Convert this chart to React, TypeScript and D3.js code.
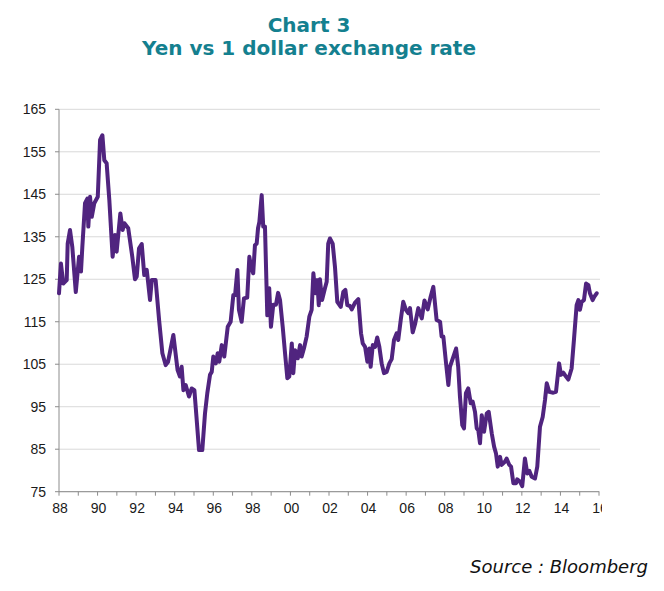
import React from "react";
import * as d3 from "d3";

const years: number[] = [
  1988.00, 1988.10, 1988.22, 1988.40, 1988.45, 1988.57, 1988.69, 1988.87, 1989.04, 1989.14,
  1989.21, 1989.35, 1989.47, 1989.52, 1989.61, 1989.70, 1989.83, 1990.01, 1990.13, 1990.25,
  1990.35, 1990.47, 1990.61, 1990.78, 1990.90, 1990.99, 1991.18, 1991.30, 1991.39, 1991.59,
  1991.80, 1991.94, 1992.03, 1992.15, 1992.29, 1992.42, 1992.55, 1992.72, 1992.81, 1993.01,
  1993.19, 1993.36, 1993.53, 1993.65, 1993.76, 1993.93, 1994.15, 1994.27, 1994.36, 1994.45,
  1994.57, 1994.74, 1994.88, 1995.02, 1995.14, 1995.26, 1995.43, 1995.57, 1995.69, 1995.83,
  1995.92, 1996.00, 1996.13, 1996.23, 1996.31, 1996.44, 1996.57, 1996.75, 1996.90, 1997.04,
  1997.13, 1997.25, 1997.33, 1997.47, 1997.59, 1997.76, 1997.87, 1997.96, 1998.07, 1998.16,
  1998.25, 1998.32, 1998.39, 1998.51, 1998.59, 1998.68, 1998.80, 1998.90, 1998.99, 1999.11,
  1999.25, 1999.36, 1999.46, 1999.60, 1999.72, 1999.84, 1999.94, 2000.07, 2000.15, 2000.24,
  2000.38, 2000.50, 2000.58, 2000.70, 2000.84, 2000.98, 2001.10, 2001.19, 2001.29, 2001.39,
  2001.47, 2001.53, 2001.64, 2001.79, 2001.88, 2001.96, 2002.05, 2002.19, 2002.31, 2002.43,
  2002.61, 2002.74, 2002.85, 2002.95, 2003.09, 2003.18, 2003.35, 2003.52, 2003.66, 2003.75,
  2003.87, 2003.99, 2004.09, 2004.16, 2004.27, 2004.39, 2004.50, 2004.61, 2004.73, 2004.85,
  2004.99, 2005.13, 2005.25, 2005.37, 2005.51, 2005.59, 2005.72, 2005.85, 2005.99, 2006.11,
  2006.20, 2006.34, 2006.46, 2006.63, 2006.81, 2006.95, 2007.12, 2007.27, 2007.41, 2007.58,
  2007.76, 2007.84, 2007.93, 2008.07, 2008.19, 2008.27, 2008.45, 2008.59, 2008.70, 2008.79,
  2008.91, 2009.00, 2009.10, 2009.22, 2009.35, 2009.45, 2009.57, 2009.66, 2009.74, 2009.83,
  2009.92, 2010.04, 2010.18, 2010.28, 2010.44, 2010.56, 2010.66, 2010.75, 2010.87, 2010.95,
  2011.13, 2011.21, 2011.35, 2011.44, 2011.56, 2011.70, 2011.76, 2011.90, 2012.02, 2012.16,
  2012.28, 2012.39, 2012.51, 2012.68, 2012.80, 2012.94, 2013.08, 2013.20, 2013.29, 2013.42,
  2013.63, 2013.77, 2013.93, 2014.03, 2014.15, 2014.29, 2014.41, 2014.58, 2014.70, 2014.84,
  2014.93, 2015.01, 2015.10, 2015.22, 2015.33, 2015.45, 2015.53, 2015.67, 2015.76, 2015.88,
];

const yenPerDollar: number[] = [
  121.7, 128.7, 124.0, 124.8, 133.4, 136.6, 132.6, 122.0, 130.3, 126.8,
  132.6, 142.9, 144.0, 137.4, 144.4, 139.7, 142.9, 144.4, 157.8, 158.9,
  153.0, 152.3, 143.6, 130.3, 135.4, 131.5, 140.5, 136.6, 138.2, 137.0,
  130.3, 125.0, 125.6, 132.3, 133.3, 126.0, 127.2, 120.1, 124.8, 124.8,
  115.4, 107.6, 104.8, 105.5, 108.0, 111.9, 103.6, 102.1, 104.4, 98.9,
  100.1, 97.4, 99.3, 98.9, 91.9, 84.8, 84.8, 93.4, 98.2, 102.5,
  103.2, 106.8, 105.2, 107.6, 105.6, 109.5, 106.8, 113.8, 115.0, 121.3,
  121.3, 127.2, 117.8, 115.0, 120.5, 120.7, 130.3, 127.9, 126.4, 133.0,
  133.4, 137.0, 138.5, 144.8, 137.4, 137.4, 116.5, 122.9, 113.8, 119.0,
  119.0, 121.8, 120.1, 113.8, 107.6, 101.7, 102.1, 109.9, 102.9, 108.3,
  106.4, 109.5, 106.8, 108.7, 111.5, 116.2, 117.8, 126.4, 121.7, 124.8,
  118.9, 125.0, 120.1, 122.9, 124.4, 133.4, 134.6, 133.4, 127.9, 119.7,
  118.5, 122.0, 122.5, 118.9, 118.7, 117.9, 119.5, 120.3, 112.3, 109.9,
  109.1, 105.6, 108.7, 104.4, 109.5, 109.1, 111.3, 109.1, 105.2, 102.9,
  103.2, 105.2, 106.2, 110.7, 112.3, 110.7, 115.4, 119.7, 117.8, 117.0,
  118.2, 112.5, 114.4, 118.2, 115.8, 120.0, 117.9, 120.9, 123.2, 115.4,
  115.0, 111.5, 111.5, 105.2, 100.1, 104.4, 106.8, 108.7, 104.4, 97.4,
  90.7, 89.9, 98.2, 99.3, 95.8, 96.2, 93.8, 89.9, 89.5, 86.4,
  93.0, 89.1, 93.4, 93.8, 88.7, 85.6, 84.0, 80.9, 83.2, 81.3,
  82.1, 82.8, 81.3, 80.9, 77.0, 77.0, 77.9, 77.4, 76.3, 82.8,
  79.3, 79.9, 78.5, 78.1, 80.9, 90.3, 92.6, 96.6, 100.5, 98.5,
  98.3, 98.5, 105.2, 102.5, 103.0, 102.1, 101.4, 104.0, 110.7, 118.9,
  120.1, 117.8, 119.7, 120.1, 124.0, 123.6, 121.7, 120.1, 120.9, 121.7,
];

const yTicks: number[] = [75, 85, 95, 105, 115, 125, 135, 145, 155, 165];
const xLabelYears: number[] = [1988, 1990, 1992, 1994, 1996, 1998, 2000, 2002, 2004, 2006, 2008, 2010, 2012, 2014, 2016];
const xLabels: string[] = ["88", "90", "92", "94", "96", "98", "00", "02", "04", "06", "08", "10", "12", "14", "16"];
const titleLines: string[] = ["Chart 3", "Yen vs 1 dollar exchange rate"];
const sourceText = "Source : Bloomberg";

export default function App() {
  const W = 664, H = 591;
  const left = 59, right = 599, top = 109.3, bottom = 491.7;
  const x = d3.scaleLinear().domain([1988, 2016]).range([left, right]);
  const y = d3.scaleLinear().domain([75, 165]).range([bottom, top]);
  const pts = years.map((t, i) => [t, yenPerDollar[i]] as [number, number]);
  const line = d3.line<[number, number]>().x(d => x(d[0])).y(d => y(d[1]));
  const yearTicks = d3.range(1988, 2017);
  const labelFont = "'Liberation Sans', Arial, sans-serif";

  return (
    <svg width={W} height={H} style={{ position: "absolute", left: 0, top: 0, background: "#fff" }}>
      <defs>
        <clipPath id="xclip">
          <rect x={0} y={0} width={602} height={H} />
        </clipPath>
      </defs>
      <rect x={0} y={0} width={W} height={H} fill="#fff" />
      <g fontFamily="'DejaVu Sans', Verdana, sans-serif" fontWeight="bold" fontSize={20} fill="#14808f" textAnchor="middle">
        <text x={309} y={32}>{titleLines[0]}</text>
        <text x={309} y={55}>{titleLines[1]}</text>
      </g>
      {yTicks.map(v => (
        <line key={"g" + v} x1={left} x2={right + 1} y1={y(v)} y2={y(v)} stroke="#d9d9d9" strokeWidth={1} />
      ))}
      <line x1={left} x2={left} y1={top} y2={bottom} stroke="#8c8c8c" strokeWidth={1} />
      <line x1={left} x2={right} y1={bottom} y2={bottom} stroke="#8c8c8c" strokeWidth={1} />
      {yTicks.map(v => (
        <g key={"yt" + v}>
          <line x1={left - 4} x2={left} y1={y(v)} y2={y(v)} stroke="#8c8c8c" />
          <text x={46} y={y(v) + 5} textAnchor="end" fontFamily={labelFont} fontSize={14} fill="#1a1a1a">{v}</text>
        </g>
      ))}
      {yearTicks.map(t => (
        <line key={"xt" + t} x1={x(t)} x2={x(t)} y1={bottom} y2={bottom + 4} stroke="#8c8c8c" />
      ))}
      <g clipPath="url(#xclip)">
        {xLabelYears.map((t, i) => (
          <text key={"xl" + t} x={x(t) + 1} y={513} textAnchor="middle" fontFamily={labelFont} fontSize={14} fill="#1a1a1a">{xLabels[i]}</text>
        ))}
      </g>
      <path d={line(pts) || ""} fill="none" stroke="#50247f" strokeWidth={4} strokeLinejoin="round" strokeLinecap="round" />
      <text x={648} y={573} textAnchor="end" fontFamily="'DejaVu Sans', Verdana, sans-serif" fontStyle="italic" fontSize={18} fill="#111">{sourceText}</text>
    </svg>
  );
}
